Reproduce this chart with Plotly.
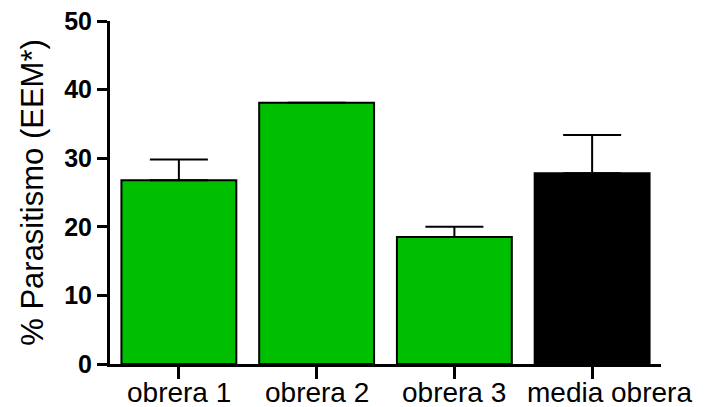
import plotly.graph_objects as go

categories = ["obrera 1", "obrera 2", "obrera 3", "media obrera"]
values = [26.8, 38.1, 18.5, 27.8]
errors_up = [3.0, 0.0, 1.5, 5.6]
bar_colors = ["#00BF00", "#00BF00", "#00BF00", "#000000"]
y_ticks = [0, 10, 20, 30, 40, 50]

FONT = "Arial, Liberation Sans, sans-serif"
label_xshift = [0, 0, 0, 17]

fig = go.Figure()
fig.add_trace(go.Bar(
    x=categories,
    y=values,
    marker=dict(color=bar_colors, line=dict(color="black", width=2)),
    error_y=dict(type="data", symmetric=False, array=errors_up,
                 arrayminus=[0] * len(values), color="black",
                 thickness=2, width=29),
    width=0.834,
    hoverinfo="skip",
))

for cat, dx in zip(categories, label_xshift):
    fig.add_annotation(
        x=cat, xref="x", y=0, yref="paper",
        text=cat, showarrow=False,
        xanchor="center", yanchor="top", xshift=dx, yshift=-12,
        borderpad=0,
        font=dict(size=28, family=FONT, color="black"),
    )

fig.update_layout(
    width=705, height=407,
    margin=dict(l=110, r=44, t=21, b=43),
    paper_bgcolor="white", plot_bgcolor="white",
    showlegend=False,
    font=dict(family=FONT, color="black"),
    xaxis=dict(
        range=[-0.5, 3.5], automargin=False,
        showline=True, linewidth=3, linecolor="black",
        ticks="outside", ticklen=12, tickwidth=3, tickcolor="black",
        showticklabels=False,
        showgrid=False, zeroline=False,
    ),
    yaxis=dict(
        range=[0, 50], tickvals=y_ticks, automargin=False,
        showline=True, linewidth=3, linecolor="black",
        ticks="outside", ticklen=10, tickwidth=3, tickcolor="black",
        tickfont=dict(size=25, family=FONT, color="black", weight="bold"),
        showgrid=False, zeroline=False,
        title=dict(text="% Parasitismo (EEM*)",
                   font=dict(size=31, family=FONT, color="black"),
                   standoff=12),
    ),
)

fig.write_html("out.html", config={"displayModeBar": False},
               post_script="document.body.style.margin='0';")
